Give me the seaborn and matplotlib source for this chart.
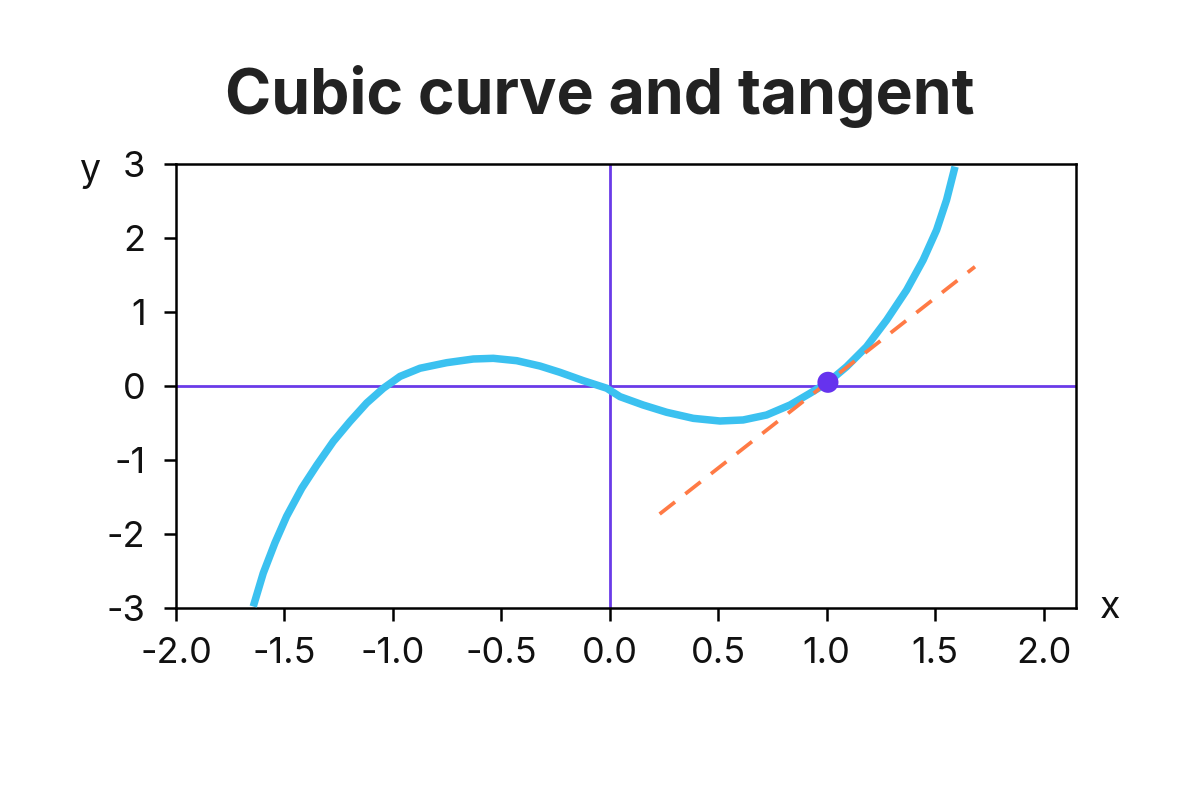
import matplotlib
matplotlib.use("Agg")
import matplotlib.pyplot as plt
import seaborn as sns
import pandas as pd

# values
curve_x = [-1.644, -1.598, -1.544, -1.490, -1.420, -1.351, -1.275, -1.198, -1.121,
           -1.044, -0.967, -0.875, -0.752, -0.629, -0.537, -0.429, -0.322, -0.230,
           -0.122, -0.014, 0.047, 0.154, 0.262, 0.385, 0.508, 0.615, 0.723,
           0.831, 0.923, 1.006, 1.092, 1.184, 1.277, 1.369, 1.445, 1.507,
           1.553, 1.592]
curve_y = [-2.98, -2.53, -2.12, -1.76, -1.38, -1.07, -0.75, -0.48, -0.23,
           -0.03, 0.13, 0.24, 0.315, 0.365, 0.374, 0.342, 0.27, 0.185,
           0.072, -0.03, -0.144, -0.257, -0.355, -0.437, -0.473, -0.459, -0.392,
           -0.257, -0.099, 0.049, 0.261, 0.531, 0.892, 1.297, 1.703, 2.108,
           2.514, 2.964]
tangent_x = [0.23, 1.684]
tangent_y = [-1.73, 1.612]
point_x = [1.006]
point_y = [0.05]
x_ticks = [-2.0, -1.5, -1.0, -0.5, 0.0, 0.5, 1.0, 1.5, 2.0]
y_ticks = [-3, -2, -1, 0, 1, 2, 3]

curve = pd.DataFrame({"x": curve_x, "y": curve_y})
tangent = pd.DataFrame({"x": tangent_x, "y": tangent_y})
point = pd.DataFrame({"x": point_x, "y": point_y})

sns.set_style("ticks")
plt.rcParams["font.family"] = ["Inter", "DejaVu Sans"]

fig = plt.figure(figsize=(12, 8), dpi=100)
ax = fig.add_axes([0.1467, 0.24, 0.75, 0.555])

ax.axhline(0, color="#6a3be8", lw=2, zorder=1)
ax.axvline(0, color="#6a3be8", lw=2, zorder=1)

sns.lineplot(data=curve, x="x", y="y", ax=ax, color="#3bc1f0", lw=5.4,
             sort=False, zorder=3, solid_joinstyle="round",
             solid_capstyle="butt")
sns.lineplot(data=tangent, x="x", y="y", ax=ax, color="#ff7a45", lw=2.7,
             linestyle=(0, (5.2, 3.5)), zorder=4)
sns.scatterplot(data=point, x="x", y="y", ax=ax, color="#6633ee", s=230,
                edgecolor="none", zorder=5)

ax.set_xlim(-2.0, 2.15)
ax.set_ylim(-3, 3)
ax.set_xticks(x_ticks)
ax.set_xticklabels([f"{t:.1f}" for t in x_ticks])
ax.set_yticks(y_ticks)
ax.set_yticklabels([str(t) for t in y_ticks])
ax.tick_params(axis="both", labelsize=26, length=9, width=1.8, color="black",
               labelcolor="#111111")
ax.tick_params(axis="x", pad=12)
ax.tick_params(axis="y", pad=13)
for s in ax.spines.values():
    s.set_color("black")
    s.set_linewidth(1.8)

ax.set_xlabel("x", fontsize=27, color="#111111")
ax.xaxis.set_label_coords(1.038, 0.0)
ax.set_ylabel("y", fontsize=27, color="#111111", rotation=0)
ax.yaxis.set_label_coords(-0.096, 0.985)
ax.xaxis.label.set_va("center")
ax.yaxis.label.set_va("center")

fig.text(0.5, 0.88, "Cubic curve and tangent", ha="center", va="center",
         fontsize=45, fontweight="bold", color="#222222")

fig.savefig("out.png", dpi=100, facecolor="white")
